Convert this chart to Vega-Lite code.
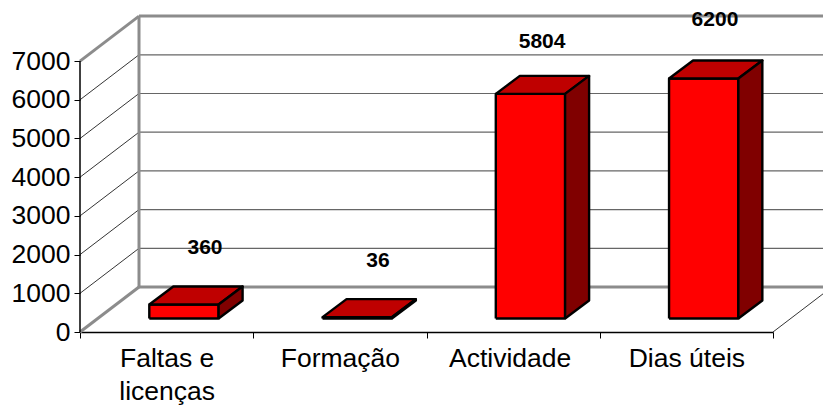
{"$schema":"https://vega.github.io/schema/vega-lite/v6.json","width":693,"height":316,"autosize":"none","padding":{"left":80,"top":16,"right":50,"bottom":76},"background":"white","config":{"view":{"stroke":null},"font":"Liberation Sans"},
"encoding":{"x":{"field":"x","type":"quantitative","scale":{"domain":[0,4],"nice":false,"zero":false},"axis":{"values":[0,0.5,1,1.5,2,2.48,3,3.5,4],"grid":false,"title":null,"domain":true,"domainColor":"#000000","domainWidth":1.5,"tickColor":"#000000","tickWidth":1,"tickSize":{"condition":{"test":"datum.value%1==0","value":6},"value":0},"labelExpr":"datum.value==0.5?['Faltas e','licenças']:datum.value==1.5?'Formação':datum.value==2.48?'Actividade':datum.value==3.5?'Dias úteis':''","labelFont":"Liberation Sans","labelFontSize":26.5,"labelColor":"#000000","labelPadding":13,"labelLineHeight":33,"labelOverlap":false,"labelFlush":false,"labelBound":false}},
"y":{"field":"y","type":"quantitative","scale":{"domain":[0,8165],"nice":false,"zero":false},"axis":{"values":[0,1000,2000,3000,4000,5000,6000,7000],"grid":false,"title":null,"domain":false,"tickColor":"#000000","tickWidth":1,"tickSize":6,"labelFont":"Liberation Sans","labelFontSize":26.5,"labelColor":"#000000","labelPadding":4,"format":"d","labelOverlap":false,"labelBound":false,"labelFlush":false}}},
"layer":[
{"data":{"values":[
{"x":0.3406,"x2":4.3406,"y":2163,"y2":2163,"kind":"grid"},{"x":0.3406,"x2":4.3406,"y":3163,"y2":3163,"kind":"grid"},{"x":0.3406,"x2":4.3406,"y":4163,"y2":4163,"kind":"grid"},{"x":0.3406,"x2":4.3406,"y":5163,"y2":5163,"kind":"grid"},{"x":0.3406,"x2":4.3406,"y":6163,"y2":6163,"kind":"grid"},{"x":0.3406,"x2":4.3406,"y":7163,"y2":7163,"kind":"grid"},
{"x":0,"x2":0.3406,"y":1000,"y2":2163,"kind":"diag"},{"x":0,"x2":0.3406,"y":2000,"y2":3163,"kind":"diag"},{"x":0,"x2":0.3406,"y":3000,"y2":4163,"kind":"diag"},{"x":0,"x2":0.3406,"y":4000,"y2":5163,"kind":"diag"},{"x":0,"x2":0.3406,"y":5000,"y2":6163,"kind":"diag"},{"x":0,"x2":0.3406,"y":6000,"y2":7163,"kind":"diag"},
{"x":4,"x2":4.3406,"y":0,"y2":1163,"kind":"diag"},
{"x":0.3406,"x2":4.3406,"y":8163,"y2":8163,"kind":"wall"},{"x":0,"x2":0.3406,"y":7000,"y2":8163,"kind":"wall"},{"x":0.3406,"x2":0.3406,"y":1163,"y2":8163,"kind":"wall"},{"x":0,"x2":0.3406,"y":0,"y2":1163,"kind":"wall"},{"x":0.3406,"x2":4.3406,"y":1163,"y2":1163,"kind":"wall"},
{"x":0,"x2":0,"y":0,"y2":7000,"kind":"axis"}]},
"mark":{"type":"rule"},
"encoding":{"x2":{"field":"x2"},"y2":{"field":"y2"},
"stroke":{"field":"kind","type":"nominal","legend":null,"scale":{"domain":["grid","diag","wall","axis"],"range":["#666666","#000000","#8c8c8c","#000000"]}},
"strokeWidth":{"field":"kind","type":"nominal","legend":null,"scale":{"type":"ordinal","domain":["grid","diag","wall","axis"],"range":[1.2,0.8,3,1.5]}}}},
{"data":{"values":[
{"id":"a1","face":"front","seq":1,"x":0.4,"y":349},{"id":"a1","face":"front","seq":2,"x":0.8,"y":349},{"id":"a1","face":"front","seq":3,"x":0.8,"y":709},{"id":"a1","face":"front","seq":4,"x":0.4,"y":709},{"id":"a1","face":"front","seq":5,"x":0.4,"y":349},
{"id":"a2","face":"top","seq":1,"x":0.4,"y":709},{"id":"a2","face":"top","seq":2,"x":0.8,"y":709},{"id":"a2","face":"top","seq":3,"x":0.9385,"y":1174},{"id":"a2","face":"top","seq":4,"x":0.5385,"y":1174},{"id":"a2","face":"top","seq":5,"x":0.4,"y":709},
{"id":"a3","face":"side","seq":1,"x":0.8,"y":349},{"id":"a3","face":"side","seq":2,"x":0.9385,"y":814},{"id":"a3","face":"side","seq":3,"x":0.9385,"y":1174},{"id":"a3","face":"side","seq":4,"x":0.8,"y":709},{"id":"a3","face":"side","seq":5,"x":0.8,"y":349},
{"id":"b1","face":"front","seq":1,"x":1.4,"y":349},{"id":"b1","face":"front","seq":2,"x":1.8,"y":349},{"id":"b1","face":"front","seq":3,"x":1.8,"y":385},{"id":"b1","face":"front","seq":4,"x":1.4,"y":385},{"id":"b1","face":"front","seq":5,"x":1.4,"y":349},
{"id":"b2","face":"top","seq":1,"x":1.4,"y":385},{"id":"b2","face":"top","seq":2,"x":1.8,"y":385},{"id":"b2","face":"top","seq":3,"x":1.9385,"y":850},{"id":"b2","face":"top","seq":4,"x":1.5385,"y":850},{"id":"b2","face":"top","seq":5,"x":1.4,"y":385},
{"id":"b3","face":"side","seq":1,"x":1.8,"y":349},{"id":"b3","face":"side","seq":2,"x":1.9385,"y":814},{"id":"b3","face":"side","seq":3,"x":1.9385,"y":850},{"id":"b3","face":"side","seq":4,"x":1.8,"y":385},{"id":"b3","face":"side","seq":5,"x":1.8,"y":349},
{"id":"c1","face":"front","seq":1,"x":2.4,"y":349},{"id":"c1","face":"front","seq":2,"x":2.8,"y":349},{"id":"c1","face":"front","seq":3,"x":2.8,"y":6153},{"id":"c1","face":"front","seq":4,"x":2.4,"y":6153},{"id":"c1","face":"front","seq":5,"x":2.4,"y":349},
{"id":"c2","face":"top","seq":1,"x":2.4,"y":6153},{"id":"c2","face":"top","seq":2,"x":2.8,"y":6153},{"id":"c2","face":"top","seq":3,"x":2.9385,"y":6618},{"id":"c2","face":"top","seq":4,"x":2.5385,"y":6618},{"id":"c2","face":"top","seq":5,"x":2.4,"y":6153},
{"id":"c3","face":"side","seq":1,"x":2.8,"y":349},{"id":"c3","face":"side","seq":2,"x":2.9385,"y":814},{"id":"c3","face":"side","seq":3,"x":2.9385,"y":6618},{"id":"c3","face":"side","seq":4,"x":2.8,"y":6153},{"id":"c3","face":"side","seq":5,"x":2.8,"y":349},
{"id":"d1","face":"front","seq":1,"x":3.4,"y":349},{"id":"d1","face":"front","seq":2,"x":3.8,"y":349},{"id":"d1","face":"front","seq":3,"x":3.8,"y":6549},{"id":"d1","face":"front","seq":4,"x":3.4,"y":6549},{"id":"d1","face":"front","seq":5,"x":3.4,"y":349},
{"id":"d2","face":"top","seq":1,"x":3.4,"y":6549},{"id":"d2","face":"top","seq":2,"x":3.8,"y":6549},{"id":"d2","face":"top","seq":3,"x":3.9385,"y":7014},{"id":"d2","face":"top","seq":4,"x":3.5385,"y":7014},{"id":"d2","face":"top","seq":5,"x":3.4,"y":6549},
{"id":"d3","face":"side","seq":1,"x":3.8,"y":349},{"id":"d3","face":"side","seq":2,"x":3.9385,"y":814},{"id":"d3","face":"side","seq":3,"x":3.9385,"y":7014},{"id":"d3","face":"side","seq":4,"x":3.8,"y":6549},{"id":"d3","face":"side","seq":5,"x":3.8,"y":349}]},
"mark":{"type":"line","stroke":"#000000","strokeWidth":2.4,"strokeJoin":"round"},
"encoding":{"detail":{"field":"id"},"order":{"field":"seq","type":"quantitative"},
"fill":{"field":"face","type":"nominal","legend":null,"scale":{"domain":["front","top","side"],"range":["#ff0000","#bf0000","#800000"]}}}},
{"data":{"values":[
{"x":0.7215,"y":2183,"value":360},{"x":1.72,"y":1822,"value":36},{"x":2.667,"y":7506,"value":5804},{"x":3.665,"y":8049,"value":6200}]},
"mark":{"type":"text","font":"Liberation Sans","fontWeight":"bold","fontSize":21,"color":"#000000","align":"center","baseline":"middle"},
"encoding":{"text":{"field":"value","type":"quantitative","format":"d"}}}
]}
